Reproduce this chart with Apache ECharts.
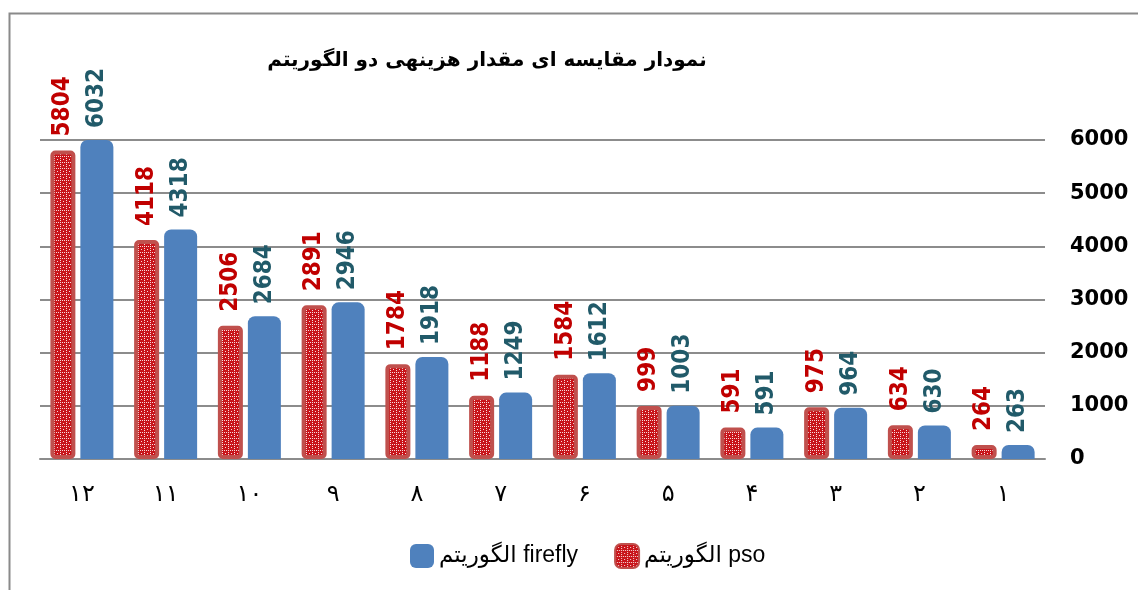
<!DOCTYPE html>
<html>
<head>
<meta charset="utf-8">
<script src="https://cdn.jsdelivr.net/npm/echarts@6/dist/echarts.min.js"></script>
<style>
html,body{margin:0;padding:0;background:#fff;}
#chart{width:1138px;height:590px;}
</style>
</head>
<body>
<div id="chart"></div>
<script>
// Data
var categories = ['۱','۲','۳','۴','۵','۶','۷','۸','۹','۱۰','۱۱','۱۲'];
var psoValues = [264, 634, 975, 591, 999, 1584, 1188, 1784, 2891, 2506, 4118, 5804];
var fireflyValues = [263, 630, 964, 591, 1003, 1612, 1249, 1918, 2946, 2684, 4318, 6032];
var seriesNames = ['الگوریتم pso', 'الگوریتم firefly'];
var titleText = 'نمودار مقایسه ای مقدار هزینهی دو الگوریتم';

// Pattern tile for pso bars
var tile = document.createElement('canvas');
tile.width = 6; tile.height = 6;
var tc = tile.getContext('2d');
tc.fillStyle = '#C8141A';
tc.fillRect(0,0,6,6);
tc.fillStyle = 'rgba(255,255,255,0.85)';
tc.fillRect(0,0,1,1); tc.fillRect(2,0,1,1); tc.fillRect(4,0,1,1);
tc.fillRect(0,2,1,1); tc.fillRect(0,4,1,1);
tc.fillRect(3,3,1,1);

var chart = echarts.init(document.getElementById('chart'), null, {renderer:'canvas'});
var numFont = '"DejaVu Sans Condensed", "DejaVu Sans", sans-serif';
chart.setOption({
  animation: false,
  backgroundColor: '#ffffff',
  title: {
    text: titleText,
    left: 482, top: 46, textAlign: 'center',
    textStyle: {fontFamily: '"DejaVu Sans", sans-serif', fontSize: 20, fontWeight: 'bold', color: '#000'}
  },
  graphic: [{
    type: 'rect', left: 7, top: 11, silent: true,
    shape: {width: 1150, height: 600},
    style: {fill: 'none', stroke: '#8a8a8a', lineWidth: 2}
  }],
  legend: {
    data: [seriesNames[1], seriesNames[0]],
    left: 405, top: 538,
    itemWidth: 24, itemHeight: 24, itemGap: 36,
    textStyle: {fontFamily: '"Liberation Sans", "DejaVu Sans", sans-serif', fontSize: 23, color: '#000'}
  },
  grid: {left: 40, right: 93, top: 140, bottom: 131},
  xAxis: {
    type: 'category', data: categories, inverse: true,
    axisLine: {lineStyle: {color: '#8c8c8c', width: 2}},
    axisTick: {show: false},
    axisLabel: {fontFamily: '"DejaVu Sans", sans-serif', fontSize: 24, color: '#000', margin: 24}
  },
  yAxis: {
    type: 'value', position: 'right', min: 0, max: 6000, interval: 1000,
    axisLine: {show: false}, axisTick: {show: false},
    splitLine: {lineStyle: {color: '#8c8c8c', width: 2}},
    axisLabel: {fontFamily: '"DejaVu Sans", sans-serif', fontSize: 21, fontWeight: 'bold', color: '#000', margin: 25,
      formatter: function (v) { return String(v); }}
  },
  series: [{
    name: seriesNames[0], type: 'bar', data: psoValues,
    barWidth: 25, barGap: '20%',
    itemStyle: {color: {image: tile, repeat: 'repeat'}, borderColor: '#C0504D', borderWidth: 4, borderRadius: 3},
    label: {show: true, position: 'top', rotate: 90, align: 'left', verticalAlign: 'middle', distance: 14,
      fontFamily: numFont, fontSize: 24, fontWeight: 'bold', color: '#C00000'}
  }, {
    name: seriesNames[1], type: 'bar', data: fireflyValues,
    barWidth: 33,
    itemStyle: {color: '#4F81BD', borderRadius: [7,7,0,0]},
    label: {show: true, position: 'top', rotate: 90, align: 'left', verticalAlign: 'middle', distance: 12,
      fontFamily: numFont, fontSize: 24, fontWeight: 'bold', color: '#215A69'}
  }]
});
</script>
</body>
</html>
